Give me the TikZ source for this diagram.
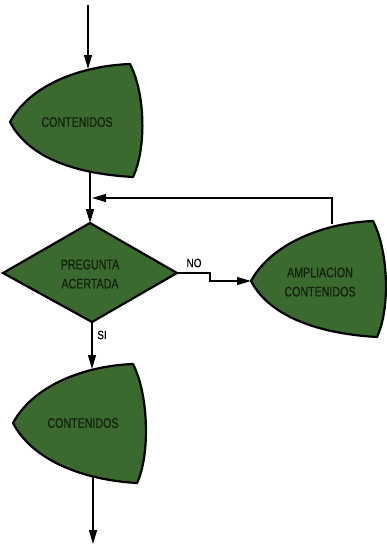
\documentclass[tikz,border=0pt]{standalone}
\usepackage{fontspec}
\setmainfont{Liberation Sans}
\usetikzlibrary{arrows.meta,calc}
\definecolor{leaf}{HTML}{3A6A2E}
\definecolor{ink}{HTML}{15200F}
\newcommand\leafshape[4]{%
  \coordinate (#1-L) at #2;
  \coordinate (#1-TR) at #3;
  \coordinate (#1-BR) at #4;
  \draw[leafbox] (#1-L) .. controls ($(#1-L)+(20,-37)$) and ($(#1-TR)+(-50,2)$) .. (#1-TR)
     .. controls ($(#1-TR)+(16,31)$) and ($(#1-BR)+(13,-27)$) .. (#1-BR)
     .. controls ($(#1-BR)+(-53,-3)$) and ($(#1-L)+(20,38)$) .. cycle;}
\newcommand\tallbox[1]{\scalebox{0.92}[1.2]{\begin{tabular}{@{}c@{}}#1\end{tabular}}}
\begin{document}
\begin{tikzpicture}[x=1pt,y=-1pt,
  leafbox/.style={fill=leaf,draw=black,line width=2.2pt,line join=round},
  conn/.style={draw=black,line width=1.4pt},
  arr/.style={conn,-{Triangle[length=14pt,width=8pt]}},
  txt/.style={text=ink,font=\fontsize{11.6}{16}\addfontfeature{FakeBold=0.6}\selectfont,align=center,inner sep=0pt},
  lbl/.style={text=black,font=\fontsize{10.5}{12}\addfontfeature{FakeBold=0.6}\selectfont,inner sep=0pt}]
\useasboundingbox (0,0) rectangle (386,546);
% shapes
\leafshape{s1}{(10,122)}{(130,64)}{(133,177)}
\leafshape{s2}{(251,281)}{(373,221)}{(377,337)}
\leafshape{s3}{(13,423)}{(133,364)}{(137,483)}
\coordinate (d-T) at (90,223);
\coordinate (d-R) at (177,273);
\coordinate (d-B) at (92,322);
\coordinate (d-L) at (3,273);
\draw[leafbox,line join=miter] (d-T) -- (d-R) -- (d-B) -- (d-L) -- cycle;
% texts
\node[txt] (t1) at (77,123) {\tallbox{CONTENIDOS}};
\node[txt] (t2) at (320,283) {\tallbox{AMPLIACION\\CONTENIDOS}};
\node[txt] (t3) at (83,424) {\tallbox{CONTENIDOS}};
\node[txt] (td) at (90,275) {\tallbox{PREGUNTA\\ACERTADA}};
\node[lbl] (no) at (194,263) {\scalebox{0.95}[1.15]{NO}};
\node[lbl] (si) at (102,335) {\scalebox{0.95}[1.15]{SI}};
% connector points
\coordinate (start) at (88,5);
\coordinate (s1-in) at (88,69);
\coordinate (s1-out) at (90,172);
\coordinate (s2-out) at (332,224);
\coordinate (join) at (92,198);
\coordinate (s3-in) at (92,369);
\coordinate (s3-out) at (93,476);
\coordinate (end) at (93,544);
% connectors
\draw[arr] (start) -- (s1-in);
\draw[arr] (s1-out) -- (d-T);
\draw[arr] (s2-out) |- (join);
\draw[arr] (d-R) -- ++(33,0) |- (s2-L);
\draw[arr] (d-B) -- (s3-in);
\draw[arr] (s3-out) -- (end);
\end{tikzpicture}
\end{document}
